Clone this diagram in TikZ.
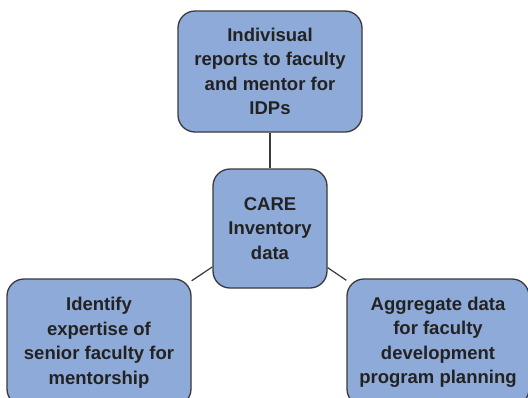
\documentclass[tikz,border=0pt]{standalone}
\usepackage{fontspec}
\setmainfont{Liberation Sans}
\definecolor{boxfill}{HTML}{8EAAD8}
\definecolor{boxline}{HTML}{3A3A3A}
\definecolor{txt}{HTML}{222222}
\begin{document}
\begin{tikzpicture}[x=1pt,y=-1pt,
  box/.style={draw=boxline, line width=1.3pt, fill=boxfill, rounded corners=17pt,
    rectangle, align=center, inner sep=0pt, text=txt,
    font=\fontsize{18.5}{24.5}\selectfont\bfseries},
  conn/.style={draw=boxline, line width=1.2pt}]
\useasboundingbox (0,0) rectangle (528,397);
\clip (0,0) rectangle (528,397);
\fill[white] (0,0) rectangle (528,397);
\node[box, minimum width=184pt, minimum height=121pt] (t) at (270,71.5)
  {Indivisual\\reports to faculty\\and mentor for\\IDPs};
\node[box, minimum width=114pt, minimum height=119pt] (c) at (270,228.5)
  {CARE\\Inventory\\data};
\node[box, minimum width=184pt, minimum height=127pt] (l) at (99,342.5)
  {Identify\\expertise of\\senior faculty for\\mentorship};
\node[box, minimum width=182pt, minimum height=127pt] (r) at (438,342.5)
  {Aggregate data\\for faculty\\development\\program planning};
\draw[conn] (t) -- (c);
\draw[conn] (c) -- (l);
\draw[conn] (c) -- (r);
\end{tikzpicture}
\end{document}
